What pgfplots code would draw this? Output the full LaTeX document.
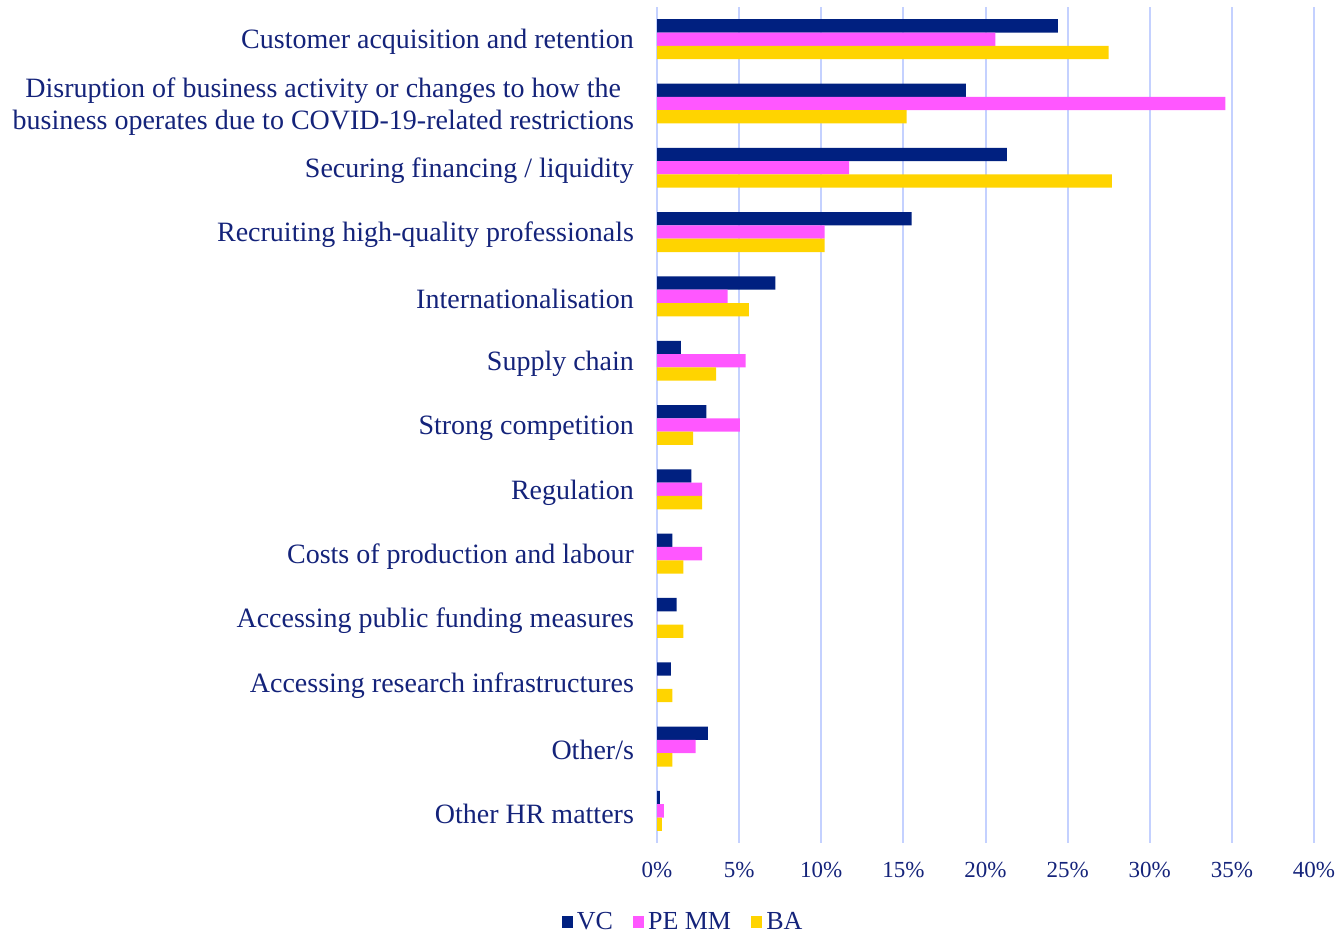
\documentclass[border=0pt]{standalone}
\usepackage{fontspec}
\setmainfont{Liberation Serif}
\usepackage{pgfplots}
\pgfplotsset{compat=1.18}
\definecolor{vc}{HTML}{002080}
\definecolor{pe}{HTML}{FF57FF}
\definecolor{ba}{HTML}{FFD400}
\definecolor{txt}{HTML}{14237A}
\definecolor{gridc}{HTML}{C4D1FF}
\begin{document}
\begin{tikzpicture}
\path[use as bounding box] (0,0) rectangle (668.5pt,466pt);
\begin{axis}[
  at={(328.5pt,44.5pt)}, anchor=south west,
  scale only axis, width=328.5pt, height=418pt,
  xbar=0pt, bar width=6.65pt,
  xmin=0, xmax=40, ymin=-0.5, ymax=12.5, y dir=reverse,
  xtick={0,5,...,40}, ytick={0,...,12},
  yticklabels={
    Customer acquisition and retention,
    {Disruption of business activity or changes to how the\\business operates due to COVID-19-related restrictions},
    Securing financing / liquidity,
    Recruiting high-quality professionals,
    Internationalisation,
    Supply chain,
    Strong competition,
    Regulation,
    Costs of production and labour,
    Accessing public funding measures,
    Accessing research infrastructures,
    Other/s,
    Other HR matters},
  xticklabel={\pgfmathprintnumber{\tick}\%},
  /pgf/number format/assume math mode=true,
  xmajorgrids, major grid style={gridc, line width=1pt},
  axis line style={draw=none}, major tick length=0pt,
  yticklabel style={align=center, font=\fontsize{14}{16}\selectfont, text=txt, xshift=-8pt, yshift=-1.5pt},
  xticklabel style={font=\fontsize{11.5}{13}\selectfont, text=txt, yshift=-6pt},
  legend style={at={(0.0411,-0.0945)}, anchor=center, draw=none, fill=none,
    font=\fontsize{13}{15}\selectfont, text=txt, legend columns=3,
    /tikz/every even column/.append style={column sep=8pt}},
]
\addplot[fill=vc, draw=none, bar shift=6.65pt, legend image code/.code={\fill[vc] (0pt,-2.8pt) rectangle (5.6pt,2.8pt);}]
  coordinates {(24.4,0) (18.8,1) (21.3,2) (15.5,3) (7.2,4) (1.46,5) (3.0,6) (2.1,7) (0.94,8) (1.2,9) (0.84,10) (3.1,11) (0.18,12)};
\addplot[fill=pe, draw=none, bar shift=0pt, legend image code/.code={\fill[pe] (0pt,-2.8pt) rectangle (5.6pt,2.8pt);}]
  coordinates {(20.6,0) (34.6,1) (11.7,2) (10.2,3) (4.3,4) (5.4,5) (5.05,6) (2.75,7) (2.75,8) (0,9) (0,10) (2.35,11) (0.42,12)};
\addplot[fill=ba, draw=none, bar shift=-6.65pt, legend image code/.code={\fill[ba] (0pt,-2.8pt) rectangle (5.6pt,2.8pt);}]
  coordinates {(27.5,0) (15.2,1) (27.7,2) (10.2,3) (5.6,4) (3.6,5) (2.2,6) (2.75,7) (1.6,8) (1.6,9) (0.94,10) (0.94,11) (0.3,12)};
\legend{VC, PE MM, BA}
\end{axis}
\end{tikzpicture}
\end{document}
